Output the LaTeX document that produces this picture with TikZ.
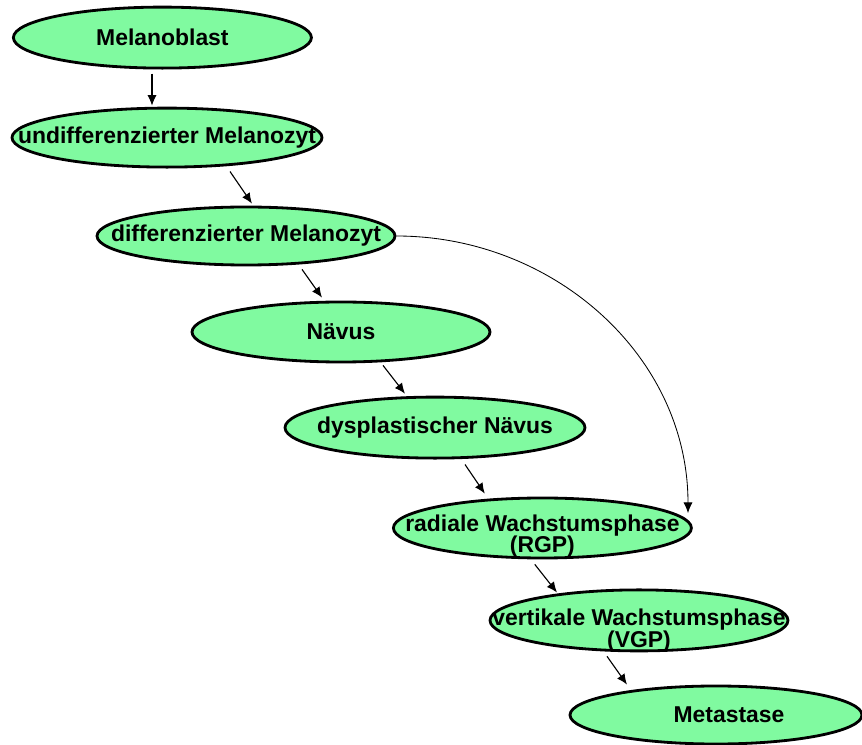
\documentclass[tikz,border=0pt]{standalone}
\usepackage{fontspec}
\setmainfont{Liberation Sans}
\usetikzlibrary{shapes, arrows.meta, positioning}
\definecolor{Mint}{RGB}{128, 250, 160}

\begin{document}
\begin{tikzpicture}[
    stage/.style={ellipse, draw=black, line width=2pt, fill=Mint, minimum width=7.45cm, minimum height=1.5cm, inner sep=0pt},
    stagetext/.style={font=\fontsize{16.3}{15.5}\selectfont\bfseries, align=center},
    flow/.style={-{Latex[length=7.5pt,width=6.5pt]}, line width=0.8pt}
]
    \useasboundingbox (0,0) rectangle (21.55,-18.625);

    % Stages of development
    \node[stage, minimum height=1.525cm, label={[stagetext]center:Melanoblast}] (mel) at (4.06,-0.94) {};
    \node[stage, minimum width=7.75cm, minimum height=1.475cm, label={[stagetext]center:undifferenzierter Melanozyt}] (und) at (4.175,-3.44) {};
    \node[stage, minimum height=1.45cm, label={[stagetext]center:differenzierter Melanozyt}] (diff) at (6.15,-5.9) {};
    \node[stage, label={[stagetext]center:Nävus}] (nav) at (8.525,-8.3) {};
    \node[stage, minimum width=7.5cm, minimum height=1.525cm, label={[stagetext]center:dysplastischer Nävus}] (dys) at (10.875,-10.69) {};
    \node[stage, label={[stagetext, yshift=-0.2cm]center:{radiale Wachstumsphase\\(RGP)}}] (rgp) at (13.56,-13.2) {};
    \node[stage, minimum height=1.525cm, label={[stagetext, yshift=-0.25cm]center:{vertikale Wachstumsphase\\(VGP)}}] (vgp) at (15.975,-15.51) {};
    \node[stage, minimum width=7.3cm, minimum height=1.45cm, label={[stagetext, xshift=0.325cm]center:Metastase}] (met) at (17.9,-17.875) {};

    % Arrows
    \draw[flow] ([xshift=-0.26cm, yshift=-0.1cm]mel.south) -- ([xshift=-0.375cm, yshift=0.025cm]und.north);
    \draw[flow] ([xshift=1.575cm, yshift=-0.075cm]und.south) -- ([xshift=0.15cm, yshift=0.05cm]diff.north);
    \draw[flow] ([xshift=1.4cm, yshift=-0.075cm]diff.south) -- ([xshift=-0.475cm, yshift=0.075cm]nav.north);
    \draw[flow] ([xshift=1.05cm, yshift=-0.05cm]nav.south) -- ([xshift=-0.75cm, yshift=0.05cm]dys.north);
    \draw[flow] ([xshift=0.75cm, yshift=-0.125cm]dys.south) -- ([xshift=-1.44cm, yshift=0.075cm]rgp.north);
    \draw[flow] ([xshift=-0.19cm, yshift=-0.125cm]rgp.south) -- ([xshift=-2.05cm, yshift=-0.1cm]vgp.north);
    \draw[flow] ([xshift=-0.8cm, yshift=-0.1cm]vgp.south) -- ([xshift=-2.225cm]met.north);

    % Shortcut
    \draw[flow, line width=0.6pt] (diff.east) to[out=0, in=90] ([xshift=3.64cm, yshift=0.375cm]rgp.center);
\end{tikzpicture}
\end{document}
